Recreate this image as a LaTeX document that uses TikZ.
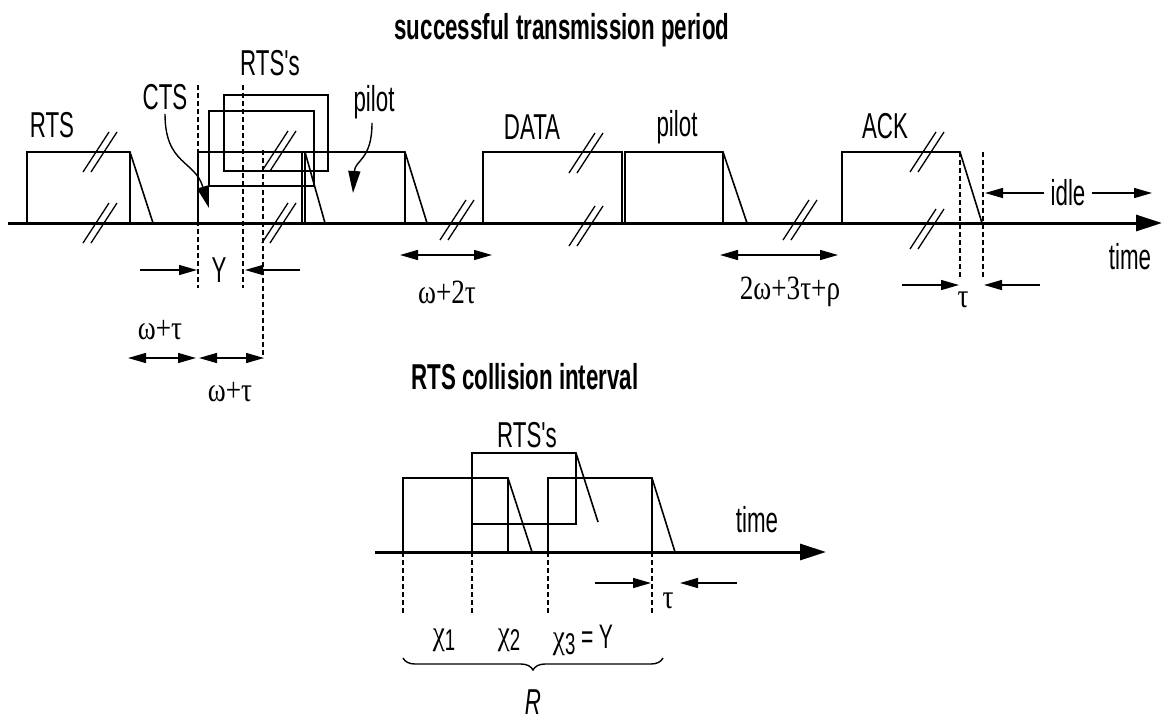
\documentclass[tikz,border=0pt]{standalone}
\usepackage{fontspec}
\usetikzlibrary{arrows.meta, decorations.pathreplacing}
\newfontfamily\narrowfont[FakeStretch=0.62]{Liberation Sans}
\newfontfamily\narrowbold[FakeStretch=0.62]{Liberation Sans Bold}
\newfontfamily\greekfont[FakeStretch=0.8]{Liberation Serif}

% two slanted strokes marking a cut in the time line
\newcommand{\cutmark}[1]{\draw[cut] (#1) ++(-17,20) -- ++(26,-40) (#1) ++(-9,20) -- ++(26,-40);}
% index set low after a greek letter
\newcommand{\idx}[1]{\raisebox{-6pt}{\narrowfont\fontsize{30}{32}\selectfont #1}}

\begin{document}
\begin{tikzpicture}[
    x=1pt, y=-1pt,
    >={Triangle[length=18pt,width=10pt]},
    every node/.style={font=\narrowfont\fontsize{36}{38}\selectfont, inner sep=0pt},
    frame/.style={line width=1.6pt},
    axis/.style={line width=3pt, ->, >={Triangle[length=26pt,width=16pt]}},
    guide/.style={line width=2.6pt, dash pattern=on 5pt off 3pt},
    span/.style={line width=1.4pt},
    cut/.style={line width=1.3pt},
    greek/.style={font=\greekfont\fontsize{34}{36}\selectfont},
    title/.style={font=\narrowbold\fontsize{36}{38}\selectfont}
]
\useasboundingbox (0,0) rectangle (1164,724);

% Titles
\node[title] (ttop) at (562,30) {successful transmission period};
\node[title] (tbot) at (525,377) {RTS collision interval};

%%%%%%%%%%%%%%%% successful transmission period
% Time axis
\draw[axis] (8,223) -- (1162,223);
\node (time1) at (1130,257) {time};

% RTS
\draw[frame] (27,223) -- (27,152) -- (130,152) -- (153,223);
\draw[frame] (130,152) -- (130,223);
\node (rts) at (52,125) {RTS};

% CTS and pilot
\draw[frame] (198,223) -- (198,152) -- (405,152) -- (427,223);
\draw[frame] (302,152) -- (302,223);
\draw[frame] (305,152) -- (305,223);
\draw[frame] (305,152) -- (325,223);
\draw[frame] (405,152) -- (405,223);
\node (cts) at (165,97) {CTS};
\node (pilot1) at (374,102) {pilot};

% colliding RTS's
\draw[frame] (209,111) rectangle (314,186);
\draw[frame] (224,95) rectangle (328,171);
\node (rtss1) at (270,63) {RTS's};

% DATA and pilot
\draw[frame] (483,223) -- (483,152) -- (622,152) -- (622,223);
\draw[frame] (625,223) -- (625,152) -- (723,152) -- (747,223);
\draw[frame] (723,152) -- (723,223);
\node (data) at (532,127) {DATA};
\node (pilot2) at (677,127) {pilot};

% ACK
\draw[frame] (842,223) -- (842,152) -- (960,152) -- (982,223);
\node (ack) at (885,126) {ACK};

% cut marks
\foreach \x/\y in {100/152, 100/223, 279/151, 279/223, 457/220, 586/153, 586/226, 800/220, 927/152, 927/229} {
    \cutmark{\x,\y}
}

% pointers to CTS and pilot
\coordinate (ctstip) at (209,208);
\coordinate (pilottip) at (353,193);
\draw[span, ->, >={Triangle[length=22pt,width=12pt]}] (cts.south) ++(0,4) .. controls (165,165) and (195,160) .. (ctstip);
\draw[span, ->, >={Triangle[length=22pt,width=12pt]}] (pilot1.south) ++(-2,4) .. controls (372,160) and (355,160) .. (pilottip);

% guide lines
\draw[guide] (198,85) -- (198,288);
\draw[guide] (243,85) -- (243,288);
\draw[guide] (263,150) -- (263,358);
\draw[guide] (960,152) -- (960,278);
\draw[guide] (983,152) -- (983,278);

% gamma
\draw[span, ->] (140,270) -- (197,270);
\draw[span, ->] (300,270) -- (245,270);
\node (gam1) at (219,270) {Y};

% omega+tau intervals
\draw[span, <->] (128,358) -- (196,358);
\draw[span, <->] (199,358) -- (264,358);
\node[greek] (wt1) at (160,330) {ω+τ};
\node[greek] (wt2) at (230,392) {ω+τ};

% omega+2tau, 2omega+3tau+rho
\draw[span, <->] (400,255) -- (492,255);
\node[greek] (w2t) at (447,292) {ω+2τ};
\draw[span, <->] (720,255) -- (838,255);
\node[greek] (w3t) at (790,292) {2ω+3τ+ρ};

% tau and idle
\draw[span, ->] (902,285) -- (959,285);
\draw[span, ->] (1040,285) -- (984,285);
\node[greek] (tau1) at (963,300) {τ};
\node (idle) at (1068,193) {idle};
\draw[span, ->] (idle.west) ++(-6,0) -- (985,193);
\draw[span, ->] (idle.east) ++(6,0) -- (1152,193);

%%%%%%%%%%%%%%%% RTS collision interval
\draw[axis] (375,552) -- (826,552);
\node (time2) at (757,520) {time};
\node (rtss2) at (527,435) {RTS's};

\draw[frame] (403,552) -- (403,478) -- (508,478) -- (532,552);
\draw[frame] (508,478) -- (508,552);
\draw[frame] (472,552) -- (472,453) -- (576,453) -- (598,522);
\draw[frame] (472,524) -- (576,524) -- (576,453);
\draw[frame] (548,552) -- (548,478) -- (652,478) -- (675,552);
\draw[frame] (652,478) -- (652,552);

\foreach \x in {403,472,548,652} {
    \draw[guide] (\x,552) -- (\x,615);
}

\draw[span, ->] (595,583) -- (651,583);
\draw[span, ->] (737,583) -- (680,583);
\node[greek] (tau2) at (668,601) {τ};

\node[greek] (x1) at (444,640) {χ\idx{1}};
\node[greek] (x2) at (509,640) {χ\idx{2}};
\node[greek] (x3) at (583,640) {χ\idx{3}\,{\narrowfont =\,Y}};

\draw[span, decorate, decoration={brace, amplitude=12pt, mirror}] (403,658) -- (663,658);
\node (r) at (533,702) {\itshape R};

\end{tikzpicture}
\end{document}
